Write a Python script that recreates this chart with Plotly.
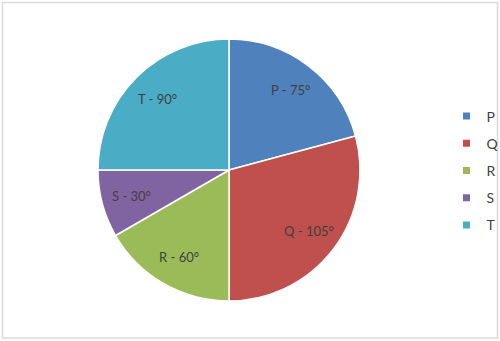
import math
import plotly.graph_objects as go

labels = ["P", "Q", "R", "S", "T"]
degrees = [75, 105, 60, 30, 90]
colors = ["#4F81BD", "#C0504D", "#9BBB59", "#8064A2", "#4BACC6"]

W, H = 500, 341
cx, cy, r = 229, 170, 131
label_frac = 0.77
FONT = "Lato, Liberation Sans, sans-serif"
TXT = "#404040"

fig = go.Figure()
fig.add_trace(go.Pie(
    labels=labels,
    values=degrees,
    sort=False,
    direction="clockwise",
    rotation=0,
    marker=dict(colors=colors, line=dict(color="white", width=1.5)),
    textinfo="none",
    hoverinfo="skip",
    showlegend=False,
    domain=dict(x=[(cx - r) / W, (cx + r) / W], y=[(H - cy - r) / H, (H - cy + r) / H]),
))

# legend entries
for lab, col in zip(labels, colors):
    fig.add_trace(go.Scatter(
        x=[None], y=[None], mode="markers", name=lab, legendgroup=lab,
        marker=dict(symbol="square", size=7, color=col),
        hoverinfo="skip",
    ))

# slice labels placed from slice angles
total = sum(degrees)
annotations = []
start = 0.0
for lab, val in zip(labels, degrees):
    mid = (start + val / 2) / total * 2 * math.pi
    start += val
    px = cx + label_frac * r * math.sin(mid)
    py = cy - label_frac * r * math.cos(mid)
    annotations.append(dict(
        x=px / W, y=1 - py / H, xref="paper", yref="paper",
        text=f"{lab} - {val}°", showarrow=False,
        font=dict(family=FONT, size=13, color=TXT),
        xanchor="center", yanchor="middle",
    ))

fig.update_layout(
    width=W, height=H,
    margin=dict(l=0, r=0, t=0, b=0, autoexpand=False),
    paper_bgcolor="white",
    plot_bgcolor="white",
    xaxis=dict(visible=False, domain=[0, 0.01]),
    yaxis=dict(visible=False, domain=[0, 0.01]),
    showlegend=True,
    legend=dict(
        x=0.893, y=0.5, xanchor="left", yanchor="middle",
        font=dict(family=FONT, size=14, color=TXT),
        tracegroupgap=6, itemwidth=30,
        bgcolor="rgba(0,0,0,0)",
    ),
    annotations=annotations,
    shapes=[dict(type="rect", xref="paper", yref="paper",
                 x0=2.5 / W, x1=1 - 2.5 / W, y0=3 / H, y1=1 - 2.5 / H,
                 line=dict(color="#D9D9D9", width=1.5), fillcolor="rgba(0,0,0,0)")],
)

fig.write_html("out.html")
